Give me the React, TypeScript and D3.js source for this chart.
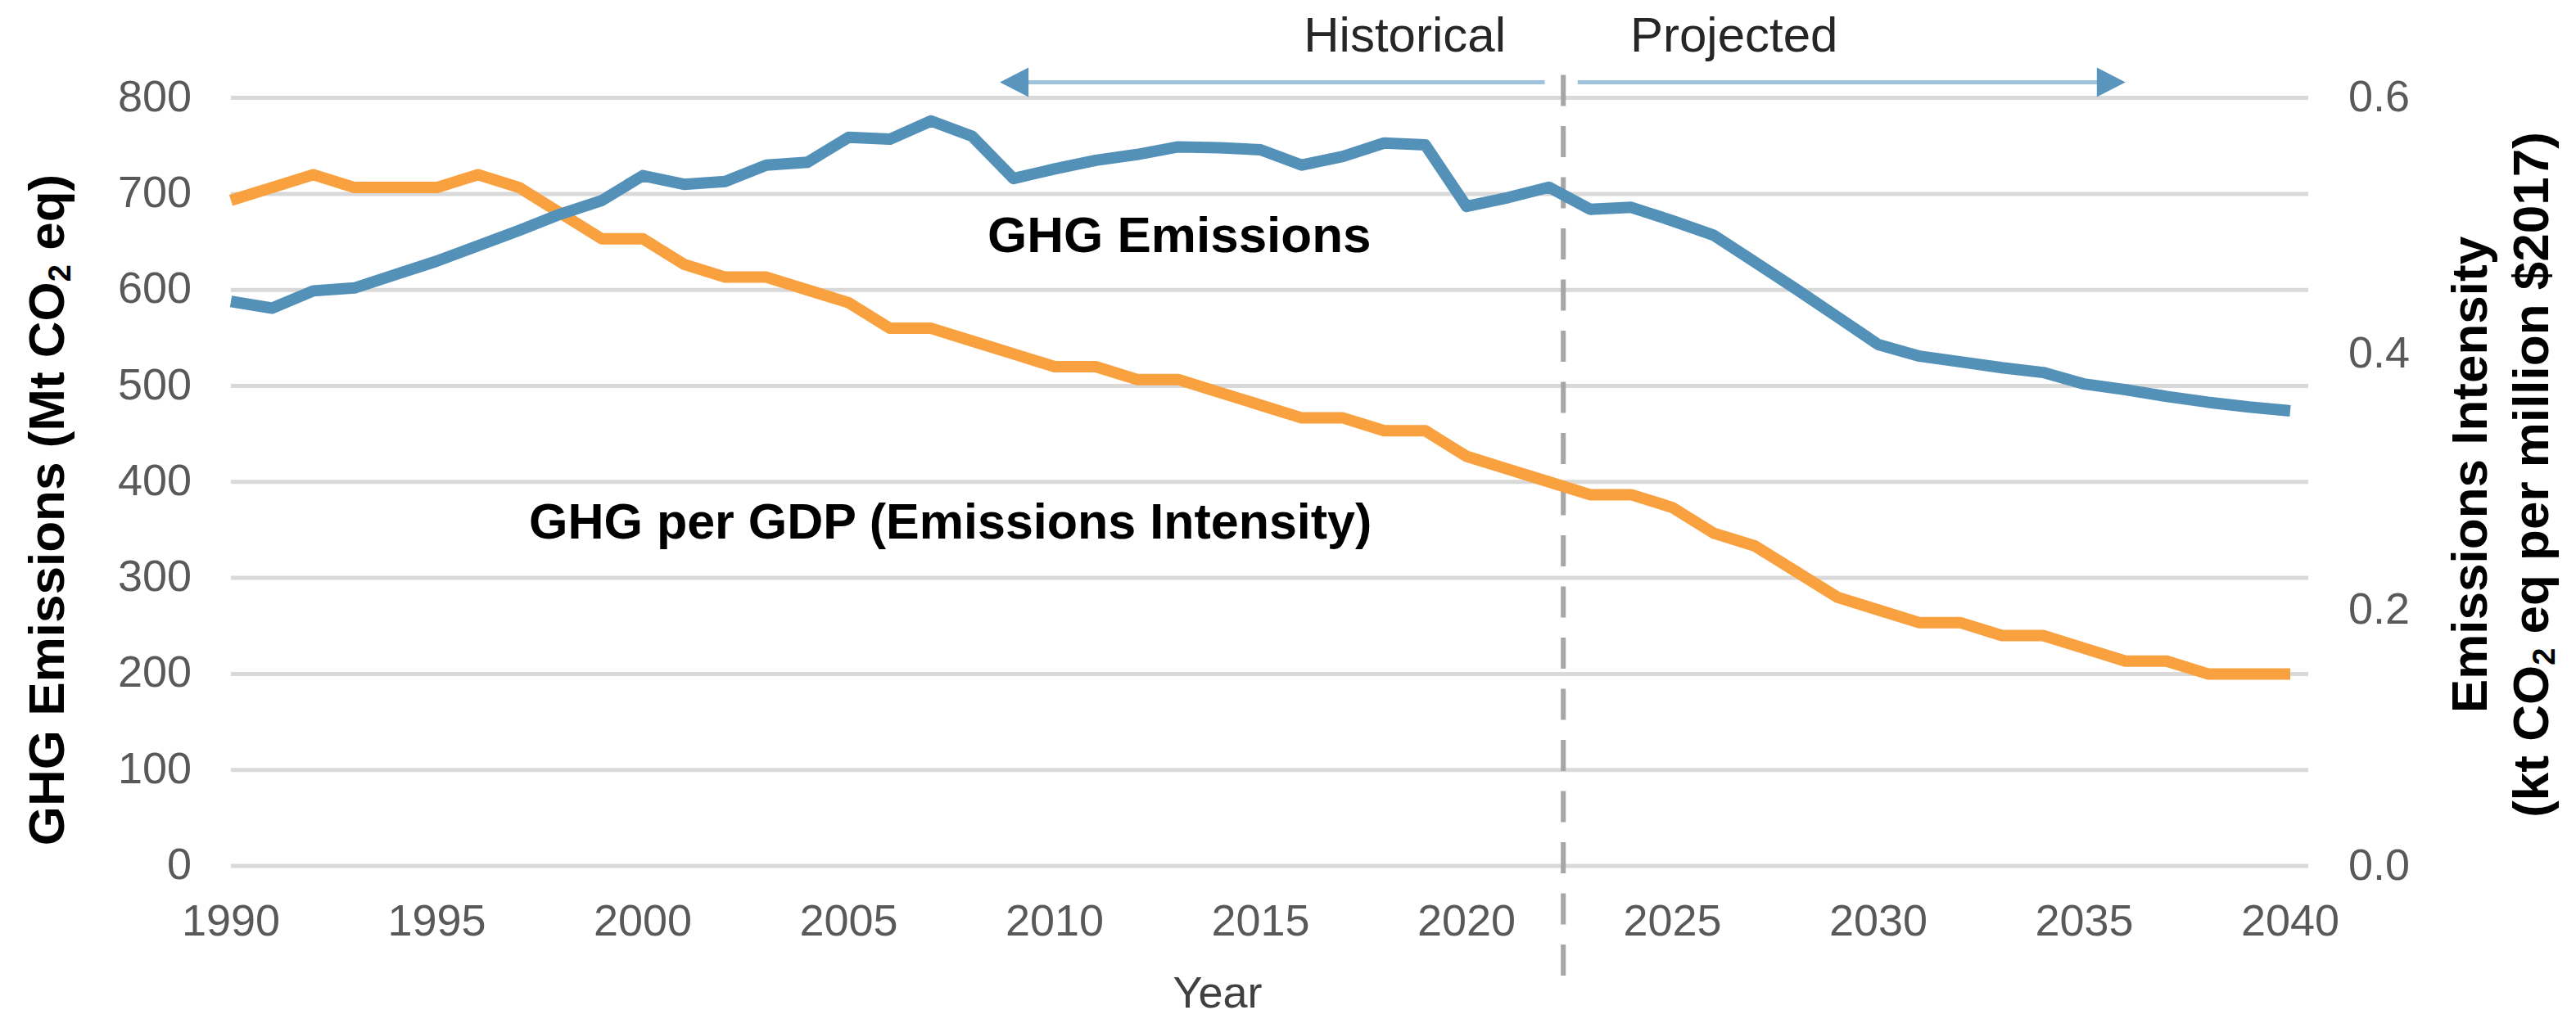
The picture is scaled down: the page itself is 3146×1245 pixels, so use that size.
import React from "react";
import * as d3 from "d3";

const years: number[] = d3.range(1990, 2041);
const ghgEmissions: number[] = [
  588, 581, 599, 602, 616, 630, 646, 662, 679, 693,
  719, 710, 713, 730, 733, 759, 757, 776, 760, 716,
  726, 735, 741, 749, 748, 746, 730, 739, 753, 751,
  687, 696, 707, 684, 686, 672, 657, 629, 601, 572,
  543, 531, 525, 519, 514, 502, 496, 489, 483, 478, 474,
];
const emissionsIntensity: number[] = [
  0.52, 0.53, 0.54, 0.53, 0.53, 0.53, 0.54, 0.53, 0.51, 0.49,
  0.49, 0.47, 0.46, 0.46, 0.45, 0.44, 0.42, 0.42, 0.41, 0.40,
  0.39, 0.39, 0.38, 0.38, 0.37, 0.36, 0.35, 0.35, 0.34, 0.34,
  0.32, 0.31, 0.30, 0.29, 0.29, 0.28, 0.26, 0.25, 0.23, 0.21,
  0.20, 0.19, 0.19, 0.18, 0.18, 0.17, 0.16, 0.16, 0.15, 0.15, 0.15,
];
const xTicks: number[] = [1990, 1995, 2000, 2005, 2010, 2015, 2020, 2025, 2030, 2035, 2040];
const leftTicks: number[] = [0, 100, 200, 300, 400, 500, 600, 700, 800];
const rightTicks: number[] = [0.0, 0.2, 0.4, 0.6];
const dividerYear = 2022.35;
const histArrow = [2008.67, 2021.9];
const projArrow = [2022.7, 2036.0];

const W = 3146;
const H = 1245;
const FONT = "'Liberation Sans', Arial, sans-serif";

export default function App() {
  const x = d3.scaleLinear().domain([1990, 2040]).range([282, 2797]);
  const yL = d3.scaleLinear().domain([0, 800]).range([1058, 119.6]);
  const yR = d3.scaleLinear().domain([0, 0.6]).range([1058, 119.6]);
  const gridRight = 2819;

  const ghgLine = d3
    .line<number>()
    .x((_, i) => x(years[i]))
    .y((d) => yL(d))(ghgEmissions) as string;
  const intLine = d3
    .line<number>()
    .x((_, i) => x(years[i]))
    .y((d) => yR(d))(emissionsIntensity) as string;

  const arrowY = 100.5;
  const headLen = 35;
  const headHalf = 18;
  const lineCol = "#9fc3dc";
  const headCol = "#5a95bd";

  const hx0 = x(histArrow[0]);
  const hx1 = x(histArrow[1]);
  const px0 = x(projArrow[0]);
  const px1 = x(projArrow[1]);
  const dx = x(dividerYear);

  return (
    <svg
      width={W}
      height={H}
      style={{ position: "absolute", left: 0, top: 0, background: "#fff" }}
      fontFamily={FONT}
    >
      <rect x={0} y={0} width={W} height={H} fill="#fff" />
      {/* gridlines */}
      {leftTicks.map((t) => (
        <line
          key={"g" + t}
          x1={x(1990)}
          x2={gridRight}
          y1={yL(t)}
          y2={yL(t)}
          stroke="#d9d9d9"
          strokeWidth={5}
        />
      ))}
      {/* left tick labels */}
      {leftTicks.map((t) => (
        <text
          key={"l" + t}
          x={234}
          y={yL(t) + 16}
          textAnchor="end"
          fontSize={54}
          fill="#595959"
        >
          {t}
        </text>
      ))}
      {/* right tick labels */}
      {rightTicks.map((t) => (
        <text
          key={"r" + t}
          x={2868}
          y={yR(t) + 16.5}
          textAnchor="start"
          fontSize={54}
          fill="#595959"
        >
          {t.toFixed(1)}
        </text>
      ))}
      {/* x tick labels */}
      {xTicks.map((t) => (
        <text
          key={"x" + t}
          x={x(t)}
          y={1143}
          textAnchor="middle"
          fontSize={54}
          fill="#595959"
        >
          {t}
        </text>
      ))}
      {/* divider */}
      <line
        x1={dx}
        x2={dx}
        y1={91.5}
        y2={1192}
        stroke="#a6a6a6"
        strokeWidth={6}
        strokeDasharray="38 24.5"
      />
      {/* series */}
      <path d={intLine} fill="none" stroke="#f9a03f" strokeWidth={14} strokeLinejoin="round" />
      <path d={ghgLine} fill="none" stroke="#5491b8" strokeWidth={14} strokeLinejoin="round" />
      {/* arrows */}
      <line x1={hx0 + headLen - 2} x2={hx1} y1={arrowY} y2={arrowY} stroke={lineCol} strokeWidth={5} />
      <polygon
        points={`${hx0},${arrowY} ${hx0 + headLen},${arrowY - headHalf} ${hx0 + headLen},${arrowY + headHalf}`}
        fill={headCol}
      />
      <line x1={px0} x2={px1 - headLen + 2} y1={arrowY} y2={arrowY} stroke={lineCol} strokeWidth={5} />
      <polygon
        points={`${px1},${arrowY} ${px1 - headLen},${arrowY - headHalf} ${px1 - headLen},${arrowY + headHalf}`}
        fill={headCol}
      />
      <text x={1839} y={62.5} textAnchor="end" fontSize={60} fill="#262626">
        Historical
      </text>
      <text x={1991} y={62.5} textAnchor="start" fontSize={60} fill="#262626">
        Projected
      </text>
      {/* inline labels */}
      <text x={1206} y={308} fontSize={62} fontWeight="bold" fill="#000">
        GHG Emissions
      </text>
      <text x={646} y={658} fontSize={61} fontWeight="bold" fill="#000">
        GHG per GDP (Emissions Intensity)
      </text>
      {/* axis titles */}
      <text
        transform={`translate(78,623) rotate(-90)`}
        textAnchor="middle"
        fontSize={62}
        fontWeight="bold"
        fill="#000"
      >
        GHG Emissions (Mt CO
        <tspan fontSize={38} dy={8}>2</tspan>
        <tspan dy={-8}> eq)</tspan>
      </text>
      <text
        transform={`translate(3037,580) rotate(-90)`}
        textAnchor="middle"
        fontSize={62}
        fontWeight="bold"
        fill="#000"
      >
        Emissions Intensity
      </text>
      <text
        transform={`translate(3112,580) rotate(-90)`}
        textAnchor="middle"
        fontSize={62}
        fontWeight="bold"
        fill="#000"
      >
        (kt CO
        <tspan fontSize={38} dy={8}>2</tspan>
        <tspan dy={-8}> eq per million $2017)</tspan>
      </text>
      <text x={1487} y={1231} textAnchor="middle" fontSize={54} fill="#404040">
        Year
      </text>
    </svg>
  );
}
